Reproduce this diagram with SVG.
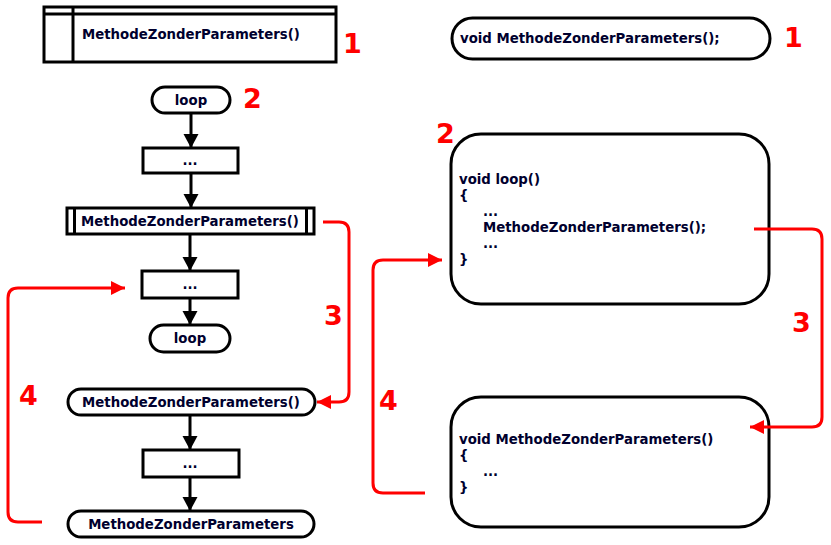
<svg xmlns="http://www.w3.org/2000/svg" width="831" height="545" viewBox="0 0 831 545">
<defs>
<marker id="ab" markerUnits="userSpaceOnUse" markerWidth="16" markerHeight="16" refX="14" refY="7.5" orient="auto">
<path d="M0,0 L14,7.5 L0,15 Z" fill="#000"/>
</marker>
<marker id="ar" markerUnits="userSpaceOnUse" markerWidth="16" markerHeight="16" refX="14" refY="7" orient="auto">
<path d="M0,0 L14,7 L0,14 Z" fill="#ff0000"/>
</marker>
</defs>
<style>
.s{fill:#fff;stroke:#000;stroke-width:3}
.t{font-family:"DejaVu Sans",Verdana,sans-serif;font-weight:bold;font-size:13.3px;fill:#00002e}
.c{text-anchor:middle}
.n{font-family:"DejaVu Sans",Verdana,sans-serif;font-weight:bold;font-size:27px;fill:#ff0000}
.fl{fill:none;stroke:#000;stroke-width:3}
.rl{fill:none;stroke:#ff0000;stroke-width:3}
</style>
<rect width="831" height="545" fill="#fff"/>

<g id="subprocess-def">
<rect class="s" x="44" y="7" width="292" height="55"/>
<line class="fl" x1="44" y1="14" x2="336" y2="14"/>
<line class="fl" x1="73" y1="7" x2="73" y2="62"/>
<text class="t" x="82" y="39">MethodeZonderParameters()</text>
</g>
<g id="loop-start">
<rect class="s" x="152" y="87" width="78" height="26" rx="13"/>
<text class="t c" x="191" y="105">loop</text>
</g>
<g id="step1">
<rect class="s" x="143" y="148" width="95" height="25"/>
<text class="t c" x="190" y="165">...</text>
</g>
<g id="call">
<rect class="s" x="67" y="208" width="247" height="26"/>
<line class="fl" x1="74.5" y1="208" x2="74.5" y2="234"/>
<line class="fl" x1="306.5" y1="208" x2="306.5" y2="234"/>
<text class="t c" x="190" y="226">MethodeZonderParameters()</text>
</g>
<g id="step2">
<rect class="s" x="142" y="271" width="96" height="27"/>
<text class="t c" x="190" y="289">...</text>
</g>
<g id="loop-end">
<rect class="s" x="150" y="325" width="80" height="27" rx="13.5"/>
<text class="t c" x="190" y="343">loop</text>
</g>
<g id="method-start">
<rect class="s" x="68" y="389" width="247" height="26" rx="13"/>
<text class="t c" x="191" y="407">MethodeZonderParameters()</text>
</g>
<g id="step3">
<rect class="s" x="143" y="450" width="96" height="27"/>
<text class="t c" x="190" y="468">...</text>
</g>
<g id="method-end">
<rect class="s" x="68" y="511" width="246" height="26" rx="13"/>
<text class="t c" x="191" y="529">MethodeZonderParameters</text>
</g>

<g id="proto">
<rect class="s" x="452" y="18" width="318" height="41" rx="20.5"/>
<text class="t" x="460" y="43">void MethodeZonderParameters();</text>
</g>
<g id="code-loop">
<rect class="s" x="451" y="134" width="318" height="170" rx="30"/>
<text class="t" x="459" y="184">void loop()</text>
<text class="t" x="459" y="200">{</text>
<text class="t" x="483" y="216">...</text>
<text class="t" x="483" y="232">MethodeZonderParameters();</text>
<text class="t" x="483" y="248">...</text>
<text class="t" x="459" y="264">}</text>
</g>
<g id="code-method">
<rect class="s" x="451" y="397" width="318" height="130" rx="30"/>
<text class="t" x="459" y="444">void MethodeZonderParameters()</text>
<text class="t" x="459" y="460">{</text>
<text class="t" x="483" y="476">...</text>
<text class="t" x="459" y="492">}</text>
</g>

<g id="connectors">
<line class="fl" x1="191" y1="113" x2="191" y2="148" marker-end="url(#ab)"/>
<line class="fl" x1="191" y1="173" x2="191" y2="208" marker-end="url(#ab)"/>
<line class="fl" x1="190" y1="234" x2="190" y2="271" marker-end="url(#ab)"/>
<line class="fl" x1="190" y1="298" x2="190" y2="325" marker-end="url(#ab)"/>
<line class="fl" x1="190" y1="415" x2="190" y2="450" marker-end="url(#ab)"/>
<line class="fl" x1="190" y1="477" x2="190" y2="511" marker-end="url(#ab)"/>
<path class="rl" d="M323,222 H339 Q349,222 349,232 V392 Q349,402 339,402 H317" marker-end="url(#ar)"/>
<path class="rl" d="M42,522 H18 Q8,522 8,512 V298 Q8,288 18,288 H125" marker-end="url(#ar)"/>
<path class="rl" d="M754,229 H812 Q822,229 822,239 V417 Q822,427 812,427 H750" marker-end="url(#ar)"/>
<path class="rl" d="M425,493 H383 Q373,493 373,483 V270 Q373,260 383,260 H442" marker-end="url(#ar)"/>
</g>

<g id="labels">
<text class="n" x="343" y="53">1</text>
<text class="n" x="243" y="108">2</text>
<text class="n" x="324" y="325">3</text>
<text class="n" x="19" y="405">4</text>
<text class="n" x="784" y="47">1</text>
<text class="n" x="436" y="143">2</text>
<text class="n" x="792" y="332">3</text>
<text class="n" x="379" y="410">4</text>
</g>
</svg>
